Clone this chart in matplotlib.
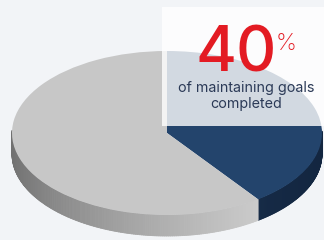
import numpy as np
import matplotlib
matplotlib.use("Agg")
import matplotlib.pyplot as plt
from matplotlib.collections import PolyCollection
from matplotlib.patches import Rectangle

# ---- data ----
labels = ["Completed", "Remaining"]
values = [40, 60]
colors = ["#23446c", "#c7c7c7"]
big_text = "40"
pct_text = "%"
sub_text = "of maintaining goals\ncompleted"

W, H = 324, 240
fig = plt.figure(figsize=(W / 100, H / 100), dpi=100)
fig.patch.set_facecolor("#f2f4f7")
ax = fig.add_axes([0, 0, 1, 1])
ax.set_facecolor("#f2f4f7")

# geometry (pixels)
cx, cy, a, b, depth = 167, 133, 155, 82, 21
d = depth / b

# top surface
wedges, _ = ax.pie(values, colors=colors, startangle=90, counterclock=False,
                   radius=1, center=(0, 0), wedgeprops=dict(linewidth=0))
for w in wedges:
    w.set_zorder(3)
ax.set_aspect("auto")
ax.set_xlim(-cx / a, (W - cx) / a)
ax.set_ylim(-(H - cy) / b, cy / b)
ax.axis("off")

# side walls with shading
def side_color(i, x):
    t = (x + 1) / 2
    if i == 0:
        c0 = np.array([0x1f, 0x3a, 0x5e]) / 255
        c1 = np.array([0x13, 0x26, 0x40]) / 255
    else:
        c0 = np.array([0x70, 0x70, 0x70]) / 255
        c1 = np.array([0xdc, 0xdc, 0xdc]) / 255
        t = t ** 0.75
    return tuple(c0 + (c1 - c0) * t)

cum = np.cumsum([0] + values) / sum(values) * 360
polys, cols = [], []
for i, v in enumerate(values):
    a1 = 90 - cum[i + 1]
    a2 = 90 - cum[i]
    ts = np.deg2rad(np.linspace(a1, a2, 300))
    for k in range(len(ts) - 1):
        t0, t1 = ts[k], ts[k + 1]
        if np.sin(t0) > 0.02 and np.sin(t1) > 0.02:
            continue
        x0, x1 = np.cos(t0), np.cos(t1)
        y0, y1 = np.sin(t0), np.sin(t1)
        polys.append([(x0, y0), (x1, y1), (x1, y1 - d), (x0, y0 - d)])
        cols.append(side_color(i, (x0 + x1) / 2))
pc = PolyCollection(polys, facecolors=cols, edgecolors=cols, linewidths=0.6, zorder=2)
ax.add_collection(pc)

# translucent text box
def px(x, y):
    return x / W, 1 - y / H

ax.add_patch(Rectangle(px(162, 126), 162 / W, 119 / H, transform=ax.transAxes,
                       facecolor="white", alpha=0.8, edgecolor="none", zorder=5))

fam = ["Inter", "DejaVu Sans"]
ax.text(*px(236, 72), big_text, transform=ax.transAxes, ha="center", va="baseline",
        fontsize=45, color="#e31b23", family=fam, fontweight="medium", zorder=6)
ax.text(*px(276, 50), pct_text, transform=ax.transAxes, ha="left", va="baseline",
        fontsize=17, color="#e31b23", family=fam, fontweight="light", zorder=6)
ax.text(*px(246, 96), sub_text, transform=ax.transAxes, ha="center", va="center",
        fontsize=10.3, color="#2b3a57", family=fam, linespacing=1.12, zorder=6)

fig.savefig("out.png", dpi=100, facecolor=fig.get_facecolor())
